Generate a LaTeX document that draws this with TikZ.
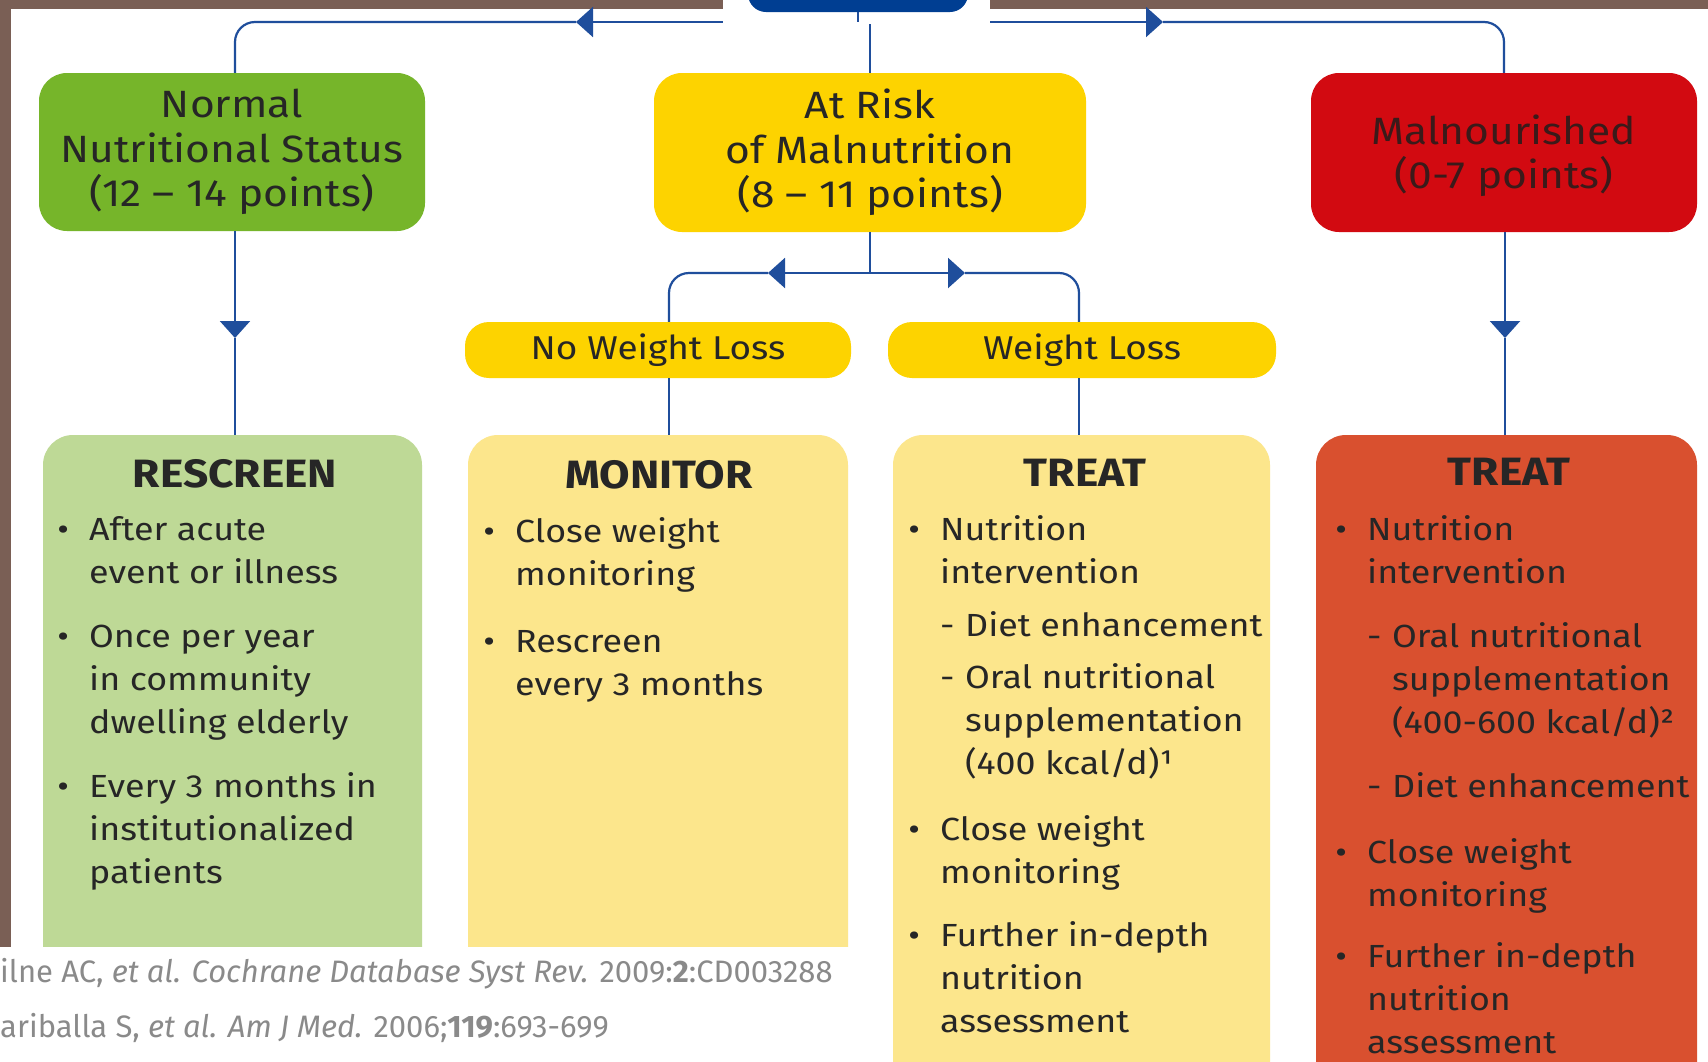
\documentclass[tikz,border=0pt]{standalone}
\usepackage{fontspec}
\setmainfont{Fira Sans}[FakeStretch=1.12]
\newfontfamily\notefont{Fira Sans}
\usetikzlibrary{arrows.meta}
\definecolor{brownbg}{HTML}{7A5F55}
\definecolor{navy}{HTML}{003E92}
\definecolor{lineblue}{HTML}{1F4E9C}
\definecolor{grn}{HTML}{76B52A}
\definecolor{yel}{HTML}{FDD300}
\definecolor{redbox}{HTML}{D20A11}
\definecolor{lgrn}{HTML}{BED996}
\definecolor{lyel}{HTML}{FCE68C}
\definecolor{orng}{HTML}{D9502F}
\definecolor{txt}{HTML}{262626}
\definecolor{maltxt}{HTML}{3B1A1A}
\definecolor{notegray}{HTML}{8A8A8A}
\newcommand{\mybul}{\llap{\makebox[52pt][c]{\textbullet}}}
\newcommand{\mysub}{\makebox[25pt][l]{-}}
\newcommand{\myind}{\hspace*{25pt}}
\begin{document}
\begin{tikzpicture}[x=1pt,y=-1pt,
  conn/.style={draw=lineblue,line width=2.2pt},
  arrowend/.style={-{Triangle[length=17pt,width=30pt]}},
  topbox/.style={rectangle,rounded corners=28pt,inner sep=0pt,align=center,text=txt,font=\fontsize{38}{44.5}\selectfont},
  pill/.style={rectangle,rounded corners=24pt,fill=yel,inner sep=0pt,minimum width=386pt,minimum height=56pt,text=txt,font=\fontsize{33}{36}\selectfont},
  bigbox/.style={rectangle,rounded corners=30pt,inner sep=0pt,minimum height=700pt},
  head/.style={anchor=base,inner sep=0pt,text=txt,font=\fontsize{39.5}{42}\selectfont\bfseries},
  body/.style={anchor=base west,inner sep=0pt,text=txt,font=\fontsize{32}{43}\selectfont},
  note/.style={anchor=base west,inner sep=0pt,text=notegray,font=\notefont\fontsize{31}{34}\selectfont}]
\useasboundingbox (0,0) rectangle (1708,1061);
\fill[white] (0,0) rectangle (1708,1061);
\fill[brownbg] (0,0) rectangle (1708,9);
\fill[brownbg] (0,0) rectangle (11,947);

% top level boxes
\node[topbox,fill=grn,minimum width=386pt,minimum height=158pt] (normal) at (232,152) {Normal\\Nutritional Status\\(12 – 14 points)};
\node[topbox,fill=yel,minimum width=432pt,minimum height=159pt] (risk) at (870,152.5) {At Risk\\of Malnutrition\\(8 – 11 points)};
\node[topbox,fill=redbox,minimum width=386pt,minimum height=159pt,text=maltxt,text height=81pt] (mal) at (1504,152.5) {Malnourished\\(0-7 points)};

% pills
\node[pill] (nwl) at (658,350) {No Weight Loss};
\node[pill,minimum width=388pt] (wl) at (1082,350) {Weight Loss};

% bottom boxes
\node[bigbox,fill=lgrn,minimum width=379pt] (resc) at (232.5,785) {};
\node[bigbox,fill=lyel,minimum width=380pt] (mon) at (658,785) {};
\node[bigbox,fill=lyel,minimum width=377pt] (treatA) at (1081.5,785) {};
\node[bigbox,fill=orng,minimum width=381pt] (treatB) at (1506.5,785) {};

\node[head] (rescH) at (235,487) {RESCREEN};
\node[head] (monH) at (659,488) {MONITOR};
\node[head] (treatAH) at (1085,486) {TREAT};
\node[head] (treatBH) at (1509,485) {TREAT};

\node[body] (rescT) at (89,540) {\begin{tabular}[t]{@{}l@{}}
\mybul After acute\\ event or illness\\[21pt]
\mybul Once per year\\ in community\\ dwelling elderly\\[21pt]
\mybul Every 3 months in\\ institutionalized\\ patients
\end{tabular}};
\node[body] (monT) at (515,542) {\begin{tabular}[t]{@{}l@{}}
\mybul Close weight\\ monitoring\\[24pt]
\mybul Rescreen\\ every 3 months
\end{tabular}};
\node[body] (treatAT) at (940,540) {\begin{tabular}[t]{@{}l@{}}
\mybul Nutrition\\ intervention\\[10pt]
\mysub Diet enhancement\\[9pt]
\mysub Oral nutritional\\ \myind supplementation\\ \myind (400 kcal/d)¹\\[23pt]
\mybul Close weight\\ monitoring\\[20pt]
\mybul Further in-depth\\ nutrition\\ assessment
\end{tabular}};
\node[body] (treatBT) at (1367,540) {\begin{tabular}[t]{@{}l@{}}
\mybul Nutrition\\ intervention\\[21pt]
\mysub Oral nutritional\\ \myind supplementation\\ \myind (400-600 kcal/d)²\\[21pt]
\mysub Diet enhancement\\[23pt]
\mybul Close weight\\ monitoring\\[18pt]
\mybul Further in-depth\\ nutrition\\ assessment
\end{tabular}};

% connectors
\coordinate (hub) at (870,22);
\coordinate (tipA) at (576,22);
\coordinate (tipB) at (1163,22);
\coordinate (normT) at ([xshift=3pt]normal.north);
\coordinate (normB) at ([xshift=3pt]normal.south);
\draw[conn,arrowend] (hub) -- (tipA);
\draw[conn,rounded corners=20pt] (tipA) -| (normT);
\draw[conn,arrowend] (hub) -- (tipB);
\draw[conn,rounded corners=20pt] (tipB) -| (mal.north);
\draw[conn] (hub) -- (risk.north);

\coordinate (hub2) at (870,273);
\coordinate (tipC) at (768,273);
\coordinate (tipD) at (965,273);
\coordinate (nwlT) at ([xshift=11pt]nwl.north);
\coordinate (nwlB) at ([xshift=11pt]nwl.south);
\coordinate (wlT) at ([xshift=-3pt]wl.north);
\coordinate (wlB) at ([xshift=-3pt]wl.south);
\draw[conn] (risk.south) -- (hub2);
\draw[conn,arrowend] (hub2) -- (tipC);
\draw[conn,rounded corners=20pt] (tipC) -| (nwlT);
\draw[conn,arrowend] (hub2) -- (tipD);
\draw[conn,rounded corners=20pt] (tipD) -| (wlT);
\draw[conn] (nwlB) -- (nwlB |- mon.north);
\draw[conn] (wlB) -- (wlB |- treatA.north);

\coordinate (tipN) at (235,338);
\coordinate (tipM) at (1505,338);
\draw[conn,arrowend] (normB) -- (tipN);
\draw[conn] (tipN) -- (tipN |- resc.north);
\draw[conn,arrowend] (mal.south -| tipM) -- (tipM);
\draw[conn] (tipM) -- (tipM |- treatB.north);

% footnote panel
\fill[white] (0,947) rectangle (880,1140);
\node[note] (fn1) at (0,982) {ilne AC, \textit{et al. Cochrane Database Syst Rev.} 2009:\textbf{2}:CD003288};
\node[note] (fn2) at (0,1037) {ariballa S, \textit{et al. Am J Med.} 2006;\textbf{119}:693-699};

% top patch with screening box
\fill[white] (723,0) rectangle (990,24);
\node[rectangle,rounded corners=18pt,fill=navy,inner sep=0pt,minimum width=220pt,minimum height=52pt] (screen) at (858,-14) {};
\draw[lineblue,line width=1.5pt] (screen.south) -- (screen.south |- hub);
\end{tikzpicture}
\end{document}
